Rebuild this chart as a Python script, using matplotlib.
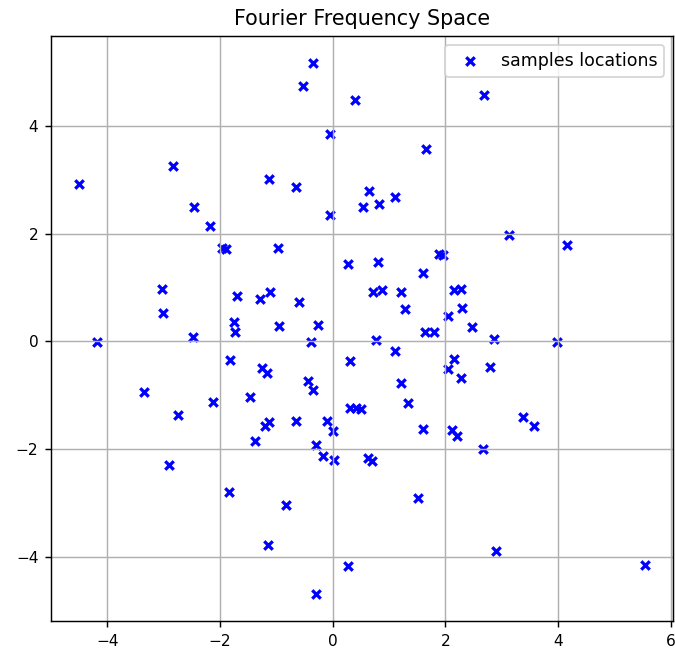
import matplotlib
matplotlib.use("Agg")
import matplotlib.pyplot as plt
import numpy as np

# sample positions in frequency space (kx, ky)
kx = [-0.35, -0.53, 0.39, 2.69, -0.04, 1.65, -4.50, -2.83, -1.13, -0.65,
      0.65, -2.46, -2.18, -1.96, -1.89, -0.05, 0.53, 0.83, 1.10, 3.13,
      4.16, -0.97, 0.27, 0.80, 1.61, 1.89, 1.96, -3.03, -3.01, -1.70,
      -1.29, -1.12, -0.60, -0.96, -1.75, -1.73, -2.48, -0.27, 0.71, 0.88,
      1.22, 1.29, 2.16, 2.28, 2.30, 2.48, 2.05, 1.63, 1.79, 2.87,
      -4.19, -0.39, 0.76, 3.98, -1.82, -1.26, -1.17, 0.30, 1.10, 2.16,
      2.05, 2.28, 2.80, -3.35, -2.74, -2.12, -1.47, -0.44, -0.35, 1.22,
      1.33, 0.30, 0.41, 0.50, -1.20, -1.13, -0.65, -0.11, 0.00, -1.38,
      -0.30, -0.18, 0.02, 0.62, 0.69, 1.61, 2.12, 2.21, 3.38, 3.58,
      2.67, -2.90, -1.84, -0.83, 1.52, -1.15, 2.90, 0.28, -0.30, 5.54]
ky = [5.18, 4.74, 4.48, 4.57, 3.85, 3.57, 2.93, 3.25, 3.01, 2.86,
      2.80, 2.50, 2.15, 1.74, 1.72, 2.34, 2.50, 2.56, 2.69, 1.97,
      1.80, 1.74, 1.44, 1.48, 1.28, 1.63, 1.60, 0.98, 0.53, 0.85,
      0.79, 0.92, 0.74, 0.29, 0.37, 0.18, 0.09, 0.31, 0.92, 0.96,
      0.92, 0.61, 0.96, 0.98, 0.63, 0.27, 0.48, 0.18, 0.18, 0.05,
      -0.02, -0.02, 0.03, -0.01, -0.34, -0.49, -0.58, -0.36, -0.17, -0.32,
      -0.51, -0.68, -0.47, -0.94, -1.37, -1.12, -1.03, -0.74, -0.90, -0.77,
      -1.14, -1.23, -1.23, -1.25, -1.57, -1.49, -1.48, -1.48, -1.67, -1.85,
      -1.92, -2.13, -2.20, -2.17, -2.22, -1.63, -1.64, -1.75, -1.40, -1.57,
      -2.00, -2.30, -2.80, -3.04, -2.91, -3.79, -3.90, -4.18, -4.70, -4.16]

fig = plt.figure(figsize=(675 / 130, 648 / 130), dpi=130)
ax = fig.add_axes([0.0756, 0.0417, 0.9214, 0.9027])
ax.scatter(kx, ky, marker="x", color="blue", s=22, linewidths=1.8,
           label="samples locations")
ax.set_title("Fourier Frequency Space", fontsize=11.5)
ax.tick_params(labelsize=8.5)
ax.grid(True)
ax.legend(loc="upper right", fontsize=9.6)
fig.savefig("out.png", dpi=130)
